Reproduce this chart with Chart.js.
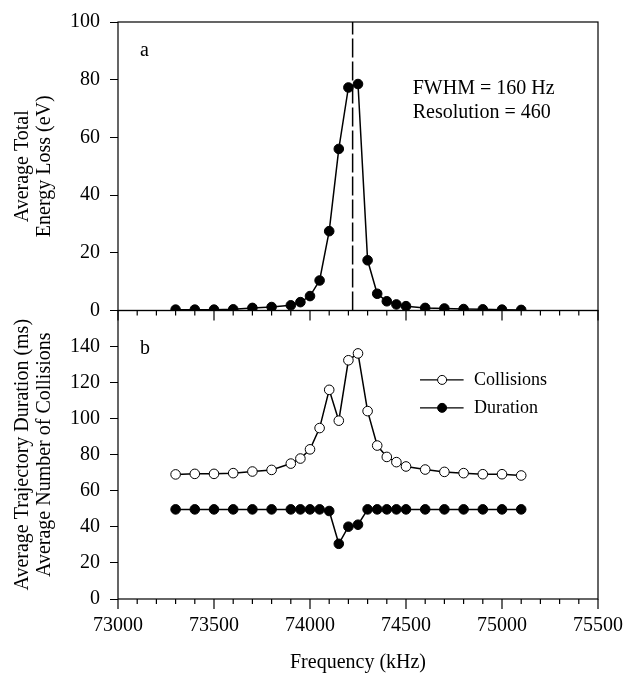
<!DOCTYPE html>
<html>
<head>
<meta charset="utf-8">
<script src="https://cdn.jsdelivr.net/npm/chart.js@4.4.1/dist/chart.umd.min.js"></script>
<style>
  html, body { margin: 0; padding: 0; background: #fff; }
  #wrap { width: 628px; height: 679px; position: relative; }
</style>
</head>
<body>
<div id="wrap"><canvas id="resChart"></canvas></div>
<script>
// frequency grid (kHz) shared by both panels
const frequency = [73300, 73400, 73500, 73600, 73700, 73800, 73900, 73950, 74000, 74050,
    74100, 74150, 74200, 74250, 74300, 74350, 74400, 74450, 74500, 74600,
    74700, 74800, 74900, 75000, 75100];

// panel a
const energyLoss = [0.3, 0.3, 0.3, 0.4, 0.9, 1.2, 1.8, 2.9, 5.0, 10.4,
    27.5, 56.0, 77.3, 78.5, 17.4, 5.8, 3.2, 2.1, 1.5, 0.9,
    0.7, 0.5, 0.4, 0.3, 0.2];

// panel b
const collisions = [69.1, 69.4, 69.4, 69.8, 70.7, 71.6, 75.1, 77.9, 83.0, 94.8,
    116.0, 98.9, 132.4, 136.2, 104.2, 85.1, 78.8, 75.9, 73.5, 71.8,
    70.5, 69.8, 69.2, 69.2, 68.5];
const duration = [49.7, 49.7, 49.7, 49.7, 49.7, 49.7, 49.7, 49.7, 49.7, 49.7,
    48.8, 30.6, 40.1, 41.2, 49.7, 49.7, 49.7, 49.7, 49.7, 49.7,
    49.7, 49.7, 49.7, 49.7, 49.7];

const resonanceFreq = 74222;
const freqTicks = [73000, 73500, 74000, 74500, 75000, 75500];
const energyTicks = [0, 20, 40, 60, 80, 100];
const countTicks = [0, 20, 40, 60, 80, 100, 120, 140];

const serif = "'Liberation Serif', 'Times New Roman', serif";
Chart.defaults.font.family = serif;
Chart.defaults.font.size = 20;
Chart.defaults.color = '#000';

const toPoints = (ys) => frequency.map((f, i) => ({ x: f, y: ys[i] }));

// box round each panel, the 100 kHz tick marks and the in-plot texts
const panelFrame = {
    id: 'panelFrame',
    afterDatasetsDraw(chart) {
        const ctx = chart.ctx;
        const x = chart.scales.x;
        const yA = chart.scales.yA;
        const yB = chart.scales.yB;
        ctx.save();
        ctx.strokeStyle = '#000';
        ctx.lineWidth = 1.2;
        [yA, yB].forEach(s => {
            ctx.strokeRect(x.left, s.top, x.right - x.left, s.bottom - s.top);
            for (let f = 73000; f <= 75500; f += 100) {
                const px = x.getPixelForValue(f);
                const len = f % 500 === 0 ? 10 : 5;
                ctx.beginPath();
                ctx.moveTo(px, s.bottom);
                ctx.lineTo(px, s.bottom + len);
                ctx.stroke();
            }
        });

        ctx.fillStyle = '#000';
        ctx.textBaseline = 'middle';
        ctx.textAlign = 'left';
        ctx.font = '20px ' + serif;
        ctx.fillText('a', x.getPixelForValue(73115), yA.getPixelForValue(90));
        ctx.fillText('b', x.getPixelForValue(73115), yB.getPixelForValue(139));
        ctx.fillText('FWHM = 160 Hz', x.getPixelForValue(74535), yA.getPixelForValue(77));
        ctx.fillText('Resolution = 460', x.getPixelForValue(74535), yA.getPixelForValue(68.5));

        // legend
        const legendItems = [
            { label: 'Collisions', y: 121.5, fill: '#fff' },
            { label: 'Duration', y: 106, fill: '#000' }
        ];
        ctx.font = '18px ' + serif;
        legendItems.forEach(item => {
            const py = yB.getPixelForValue(item.y);
            const mx = x.getPixelForValue(74688);
            ctx.beginPath();
            ctx.moveTo(x.getPixelForValue(74573), py);
            ctx.lineTo(x.getPixelForValue(74800), py);
            ctx.stroke();
            ctx.beginPath();
            ctx.arc(mx, py, 4.5, 0, Math.PI * 2);
            ctx.fillStyle = item.fill;
            ctx.fill();
            ctx.lineWidth = 1;
            ctx.stroke();
            ctx.lineWidth = 1.2;
            ctx.fillStyle = '#000';
            ctx.fillText(item.label, x.getPixelForValue(74854), py);
        });
        ctx.restore();
    }
};

const ctx = document.getElementById('resChart').getContext('2d');
const resChart = new Chart(ctx, {
    type: 'line',
    data: {
        datasets: [
            {
                label: 'Resonance',
                data: [{ x: resonanceFreq, y: 0 }, { x: resonanceFreq, y: 100 }],
                yAxisID: 'yA',
                borderColor: '#000',
                borderWidth: 1.5,
                borderDash: [19, 4],
                pointRadius: 0
            },
            {
                label: 'Energy Loss',
                data: toPoints(energyLoss),
                yAxisID: 'yA',
                borderColor: '#000',
                backgroundColor: '#000',
                borderWidth: 1.5,
                pointRadius: 4.8,
                pointBorderWidth: 1,
                tension: 0
            },
            {
                label: 'Collisions',
                data: toPoints(collisions),
                yAxisID: 'yB',
                borderColor: '#000',
                backgroundColor: '#fff',
                borderWidth: 1.5,
                pointRadius: 4.8,
                pointBorderWidth: 1,
                tension: 0
            },
            {
                label: 'Duration',
                data: toPoints(duration),
                yAxisID: 'yB',
                borderColor: '#000',
                backgroundColor: '#000',
                borderWidth: 1.5,
                pointRadius: 4.8,
                pointBorderWidth: 1,
                tension: 0
            }
        ]
    },
    options: {
        responsive: true,
        maintainAspectRatio: false,
        animation: false,
        layout: { padding: { left: 12, right: 30, top: 10, bottom: 5 } },
        plugins: {
            legend: { display: false },
            tooltip: { enabled: false }
        },
        scales: {
            x: {
                type: 'linear',
                min: 73000,
                max: 75500,
                afterBuildTicks: axis => { axis.ticks = freqTicks.map(v => ({ value: v })); },
                // last label may hang into the right margin
                afterFit: axis => { axis.paddingRight = 0; },
                ticks: { padding: 7, autoSkip: false, maxRotation: 0, callback: v => String(v) },
                grid: { display: false },
                border: { display: false },
                title: {
                    display: true,
                    text: 'Frequency (kHz)',
                    font: { size: 20, lineHeight: 1.1 },
                    padding: { top: 7, bottom: 0 }
                }
            },
            yB: {
                type: 'linear',
                position: 'left',
                stack: 'panels',
                stackWeight: 1,
                min: 0,
                max: 160,
                afterBuildTicks: axis => { axis.ticks = countTicks.map(v => ({ value: v })); },
                ticks: { padding: 10, autoSkip: false },
                grid: { drawOnChartArea: false, tickLength: 8, color: '#000' },
                border: { display: false },
                title: {
                    display: true,
                    text: ['Average Trajectory Duration (ms)', 'Average Number of Collisions'],
                    font: { size: 20, lineHeight: 1.1 },
                    padding: { top: 0, bottom: 4 }
                }
            },
            yA: {
                type: 'linear',
                position: 'left',
                stack: 'panels',
                stackWeight: 1,
                min: 0,
                max: 100,
                afterBuildTicks: axis => { axis.ticks = energyTicks.map(v => ({ value: v })); },
                ticks: { padding: 10, autoSkip: false },
                grid: { drawOnChartArea: false, tickLength: 8, color: '#000' },
                border: { display: false },
                title: {
                    display: true,
                    text: ['Average Total', 'Energy Loss (eV)'],
                    font: { size: 20, lineHeight: 1.1 },
                    padding: { top: 0, bottom: 4 }
                }
            }
        }
    },
    plugins: [panelFrame]
});
</script>
</body>
</html>
